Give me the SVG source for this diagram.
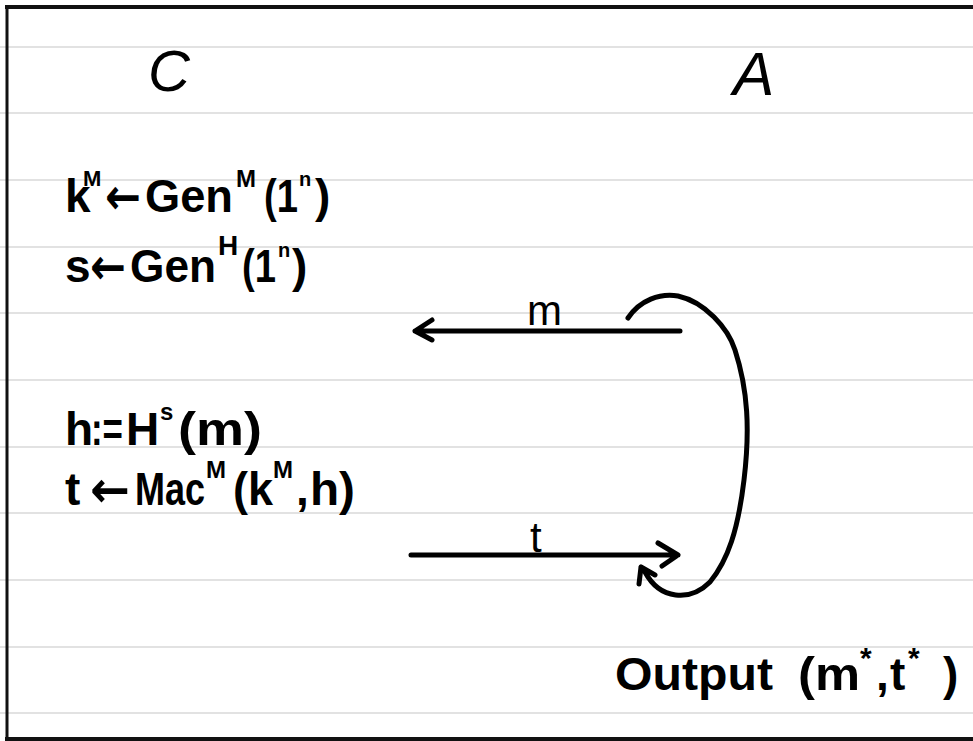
<svg xmlns="http://www.w3.org/2000/svg" width="973" height="741" viewBox="0 0 973 741">
<style>
.rule{stroke:#d9d9d9;stroke-width:1.5}
.ink{fill:#000;font-family:"Liberation Sans",Arial,sans-serif;font-weight:bold;font-size:46px}
.sup{fill:#000;font-family:"Liberation Sans",Arial,sans-serif;font-weight:bold;font-size:24px}
.arr{fill:#000;font-family:"DejaVu Sans",sans-serif;font-weight:bold;font-size:50px}
.pen{fill:none;stroke:#000;stroke-width:5;stroke-linecap:round;stroke-linejoin:round}
</style>
<rect width="973" height="741" fill="#fff"/>
<g id="rules">
<line class="rule" x1="0" y1="47" x2="973" y2="47"/>
<line class="rule" x1="0" y1="113" x2="973" y2="113"/>
<line class="rule" x1="0" y1="180" x2="973" y2="180"/>
<line class="rule" x1="0" y1="247" x2="973" y2="247"/>
<line class="rule" x1="0" y1="313" x2="973" y2="313"/>
<line class="rule" x1="0" y1="380" x2="973" y2="380"/>
<line class="rule" x1="0" y1="447" x2="973" y2="447"/>
<line class="rule" x1="0" y1="513" x2="973" y2="513"/>
<line class="rule" x1="0" y1="580" x2="973" y2="580"/>
<line class="rule" x1="0" y1="647" x2="973" y2="647"/>
<line class="rule" x1="0" y1="713" x2="973" y2="713"/>
</g>
<g id="frame" fill="none" stroke="#111">
<line x1="5" y1="7" x2="973" y2="7" stroke-width="4"/>
<line x1="7" y1="6" x2="7" y2="741" stroke-width="3"/>
<line x1="5" y1="739" x2="973" y2="739" stroke-width="4"/>
</g>
<g id="node-C"><text class="ink" x="148" y="91" style="font-size:58px;font-style:italic;font-weight:normal">C</text></g>
<g id="node-A"><text class="ink" x="733" y="95" style="font-size:62px;font-style:italic;font-weight:normal">A</text></g>
<g id="gen-lines">
<text class="ink" x="65" y="212">k</text>
<text class="sup" x="83" y="186" style="font-size:22px">M</text>
<text class="arr" x="105" y="214" textLength="36" lengthAdjust="spacingAndGlyphs">←</text>
<text class="ink" x="145" y="212" textLength="88" lengthAdjust="spacingAndGlyphs">Gen</text>
<text class="sup" x="236" y="187">M</text>
<text class="ink" x="264" y="212" textLength="34" lengthAdjust="spacingAndGlyphs">(1</text>
<text class="sup" x="299" y="186" style="font-size:20px">n</text>
<text class="ink" x="315" y="212">)</text>
<text class="ink" x="65" y="282">s</text>
<text class="arr" x="90" y="284" textLength="36" lengthAdjust="spacingAndGlyphs">←</text>
<text class="ink" x="130" y="282" textLength="86" lengthAdjust="spacingAndGlyphs">Gen</text>
<text class="sup" x="218" y="255" style="font-size:28px">H</text>
<text class="ink" x="242" y="282" textLength="34" lengthAdjust="spacingAndGlyphs">(1</text>
<text class="sup" x="278" y="257" style="font-size:20px">n</text>
<text class="ink" x="292" y="282">)</text>
</g>
<g id="mac-lines">
<text class="ink" x="65" y="445">h</text>
<text class="ink" x="91" y="445" textLength="32" lengthAdjust="spacingAndGlyphs">:=</text>
<text class="ink" x="126" y="445">H</text>
<text class="sup" x="160" y="420">s</text>
<text class="ink" x="178" y="445" textLength="84" lengthAdjust="spacingAndGlyphs">(m)</text>
<text class="ink" x="65" y="505">t</text>
<text class="arr" x="90" y="507" textLength="40" lengthAdjust="spacingAndGlyphs">←</text>
<text class="ink" x="135" y="505" textLength="70" lengthAdjust="spacingAndGlyphs">Mac</text>
<text class="sup" x="206" y="478">M</text>
<text class="ink" x="233" y="505" textLength="40" lengthAdjust="spacingAndGlyphs">(k</text>
<text class="sup" x="273" y="478">M</text>
<text class="ink" x="296" y="505">,</text>
<text class="ink" x="310" y="505" textLength="45" lengthAdjust="spacingAndGlyphs">h)</text>
</g>
<g id="output">
<text class="ink" x="615" y="690" textLength="158" lengthAdjust="spacingAndGlyphs">Output</text>
<text class="ink" x="798" y="690" textLength="62" lengthAdjust="spacingAndGlyphs">(m</text>
<text class="sup" x="860" y="668" style="font-size:30px">*</text>
<text class="ink" x="876" y="690">,</text>
<text class="ink" x="890" y="690">t</text>
<text class="sup" x="908" y="668" style="font-size:30px">*</text>
<text class="ink" x="943" y="690">)</text>
</g>
<g id="connectors">
<path class="pen" d="M680 331 L415 331 M432 320 L415 331 L432 340"/>
<text class="ink" x="527" y="325" style="font-size:42px;font-weight:normal">m</text>
<path class="pen" d="M411 555 L678 555 M658 543 L678 555 L662 566"/>
<text class="ink" x="530" y="552" style="font-size:42px;font-weight:normal">t</text>
<path class="pen" d="M628 318 C640 300 660 293 678 296 C705 302 728 328 735 350 C748 390 750 430 744 480 C738 530 728 560 710 582 C690 602 660 600 645 572 M641 567 L639 584 M641 567 L655 575"/>
</g>
</svg>
